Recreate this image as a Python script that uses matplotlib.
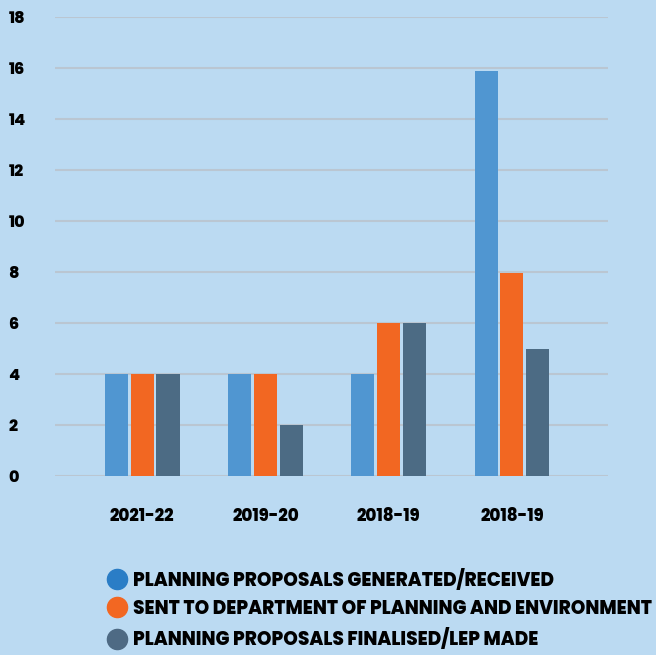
import numpy as np
import matplotlib
matplotlib.use("Agg")
import matplotlib.pyplot as plt
from matplotlib.lines import Line2D

years = ["2021-22", "2019-20", "2018-19", "2018-19"]
generated = [4, 4, 4, 15.9]
sent = [4, 4, 6, 7.95]
finalised = [4, 2, 6, 5]
series_names = ["PLANNING PROPOSALS GENERATED/RECEIVED",
                "SENT TO DEPARTMENT OF PLANNING AND ENVIRONMENT",
                "PLANNING PROPOSALS FINALISED/LEP MADE"]

BG = "#BBDAF2"
bar_cols = ["#5096D1", "#F26722", "#4C6B84"]
leg_cols = ["#2A7DC6", "#F26722", "#4E6A84"]
plt.rcParams["font.family"] = ["Poppins", "Inter", "DejaVu Sans"]

fig = plt.figure(figsize=(6.56, 6.55), dpi=100, facecolor=BG)
ax = fig.add_axes([0.0838, 0.2733, 0.8432, 0.7007])
ax.set_facecolor(BG)

x = np.arange(len(years))
w, off = 0.187, 0.21
for i, vals in enumerate([generated, sent, finalised]):
    ax.bar(x + (i - 1) * off, vals, width=w, color=bar_cols[i], zorder=3)

ax.set_xlim(-0.707, 3.78)
ax.set_ylim(0, 18)
ax.set_yticks(range(0, 19, 2))
ax.grid(axis="y", color="#BAC6D2", lw=1.5, zorder=0)
for s in ax.spines.values():
    s.set_visible(False)
ax.tick_params(length=0)
ax.tick_params(axis="y", pad=33.5)
ax.tick_params(axis="x", pad=23)
ax.set_xticks(x, years)
for t in ax.get_yticklabels():
    t.set_fontweight("heavy"); t.set_fontsize(11.5); t.set_ha("left")
for t in ax.get_xticklabels():
    t.set_fontweight("heavy"); t.set_fontsize(12)

handles = [Line2D([], [], marker="o", ls="none", ms=14.5, color=c) for c in leg_cols]
fig.legend(handles, series_names, loc="upper left", bbox_to_anchor=(0.150, 0.146),
           frameon=False, handletextpad=0.4, labelspacing=0.5, borderpad=0,
           prop=dict(weight="heavy", size=13.3), handlelength=1.0)

fig.savefig("out.png", dpi=100, facecolor=BG)
